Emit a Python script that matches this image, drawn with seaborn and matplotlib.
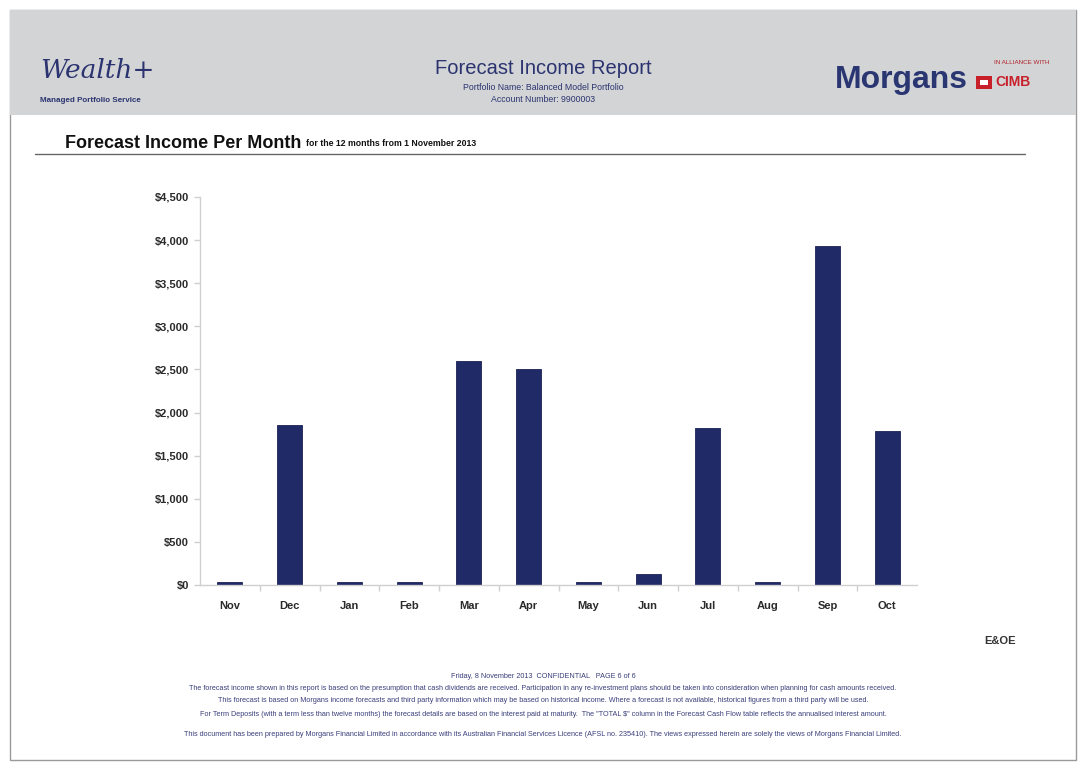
import matplotlib
matplotlib.use("Agg")
import matplotlib.pyplot as plt
import seaborn as sns
import pandas as pd
from matplotlib.patches import Rectangle
from matplotlib.lines import Line2D
from matplotlib.ticker import FuncFormatter, FixedLocator

months = ["Nov", "Dec", "Jan", "Feb", "Mar", "Apr", "May", "Jun", "Jul", "Aug", "Sep", "Oct"]
income = [30, 1855, 30, 30, 2600, 2510, 30, 125, 1820, 30, 3935, 1785]
yticks = [0, 500, 1000, 1500, 2000, 2500, 3000, 3500, 4000, 4500]

sns.set_theme(style="white")
plt.rcParams['font.family'] = ['Liberation Sans', 'DejaVu Sans']

W, H = 1086, 765
fig = plt.figure(figsize=(W / 100, H / 100), dpi=100)
fig.patch.set_facecolor("white")

def fx(x):
    return x / W

def fy(y):
    return 1 - y / H

# page border
fig.add_artist(Rectangle((fx(10), fy(760)), fx(1066), (750) / H, transform=fig.transFigure,
                         fill=False, edgecolor="#9a9a9a", linewidth=1.0))
# header band
fig.add_artist(Rectangle((fx(10), fy(115)), fx(1066), 105 / H, transform=fig.transFigure,
                         facecolor="#d3d4d5", edgecolor="none"))

navy = "#2b3470"
fig.text(fx(40), fy(78), "Wealth+", fontsize=19, style="italic", family=["DejaVu Serif"],
         color=navy, va="baseline", ha="left")
fig.text(fx(40), fy(100), "Managed Portfolio Service", fontsize=5.8, color=navy, weight="bold",
         va="center", ha="left")

fig.text(fx(543), fy(68), "Forecast Income Report", fontsize=14.5, color=navy, ha="center", va="center")
fig.text(fx(543), fy(87), "Portfolio Name: Balanced Model Portfolio", fontsize=6.3, color=navy,
         ha="center", va="center")
fig.text(fx(543), fy(100), "Account Number: 9900003", fontsize=6.3, color=navy, ha="center", va="center")

fig.text(fx(968), fy(80), "Morgans", fontsize=23, weight="bold", color="#2a3672", ha="right", va="center")
fig.text(fx(1022), fy(62), "IN ALLIANCE WITH", fontsize=4.5, color="#b0202a", ha="center", va="center")
fig.add_artist(Rectangle((fx(976), fy(89)), 16 / W, 13 / H, transform=fig.transFigure,
                         facecolor="#c8202a", edgecolor="none"))
fig.add_artist(Rectangle((fx(980), fy(85)), 8 / W, 5 / H, transform=fig.transFigure,
                         facecolor="white", edgecolor="none"))
fig.text(fx(995), fy(82), "CIMB", fontsize=10, weight="bold", color="#c8202a", ha="left", va="center")

# section title
title = fig.text(fx(65), fy(143), "Forecast Income Per Month", fontsize=13, weight="bold",
                 color="#111111", ha="left", va="center")
fig.canvas.draw()
bb = title.get_window_extent(renderer=fig.canvas.get_renderer())
fig.text(bb.x1 / W + 5 / W, fy(144), "for the 12 months from 1 November 2013", fontsize=6.3,
         weight="bold", color="#111111", ha="left", va="center")
fig.add_artist(Line2D([fx(35), fx(1025)], [fy(154), fy(154)], transform=fig.transFigure,
                      color="#666666", linewidth=1.0))

# chart
ax = fig.add_axes([fx(200), fy(585), (917 - 200) / W, (585 - 197) / H])
df = pd.DataFrame({"month": months, "income": income})
sns.barplot(data=df, x="month", y="income", color="#202a66", width=0.42, saturation=1,
            edgecolor="#1a2255", linewidth=0.6, ax=ax)
ax.set_xlim(-0.5, len(months) - 0.5)
ax.set_ylim(0, 4500)
ax.yaxis.set_major_locator(FixedLocator(yticks))
ax.yaxis.set_major_formatter(FuncFormatter(lambda v, p: f"${v:,.0f}"))
ax.set_xlabel("")
ax.set_ylabel("")
for s in ["top", "right"]:
    ax.spines[s].set_visible(False)
for s in ["left", "bottom"]:
    ax.spines[s].set_color("#d0d0d0")
    ax.spines[s].set_linewidth(1.0)
ax.tick_params(axis="y", length=4, color="#d0d0d0", width=1, left=True, labelsize=8,
               labelcolor="#2a2a2a", pad=4)
ax.tick_params(axis="x", length=0, labelsize=8, labelcolor="#2a2a2a", pad=17)
ax.set_xticks([i + 0.5 for i in range(len(months) - 1)], minor=True)
ax.tick_params(axis="x", which="minor", length=4, color="#d0d0d0", width=1, bottom=True)
for lab in ax.get_yticklabels():
    lab.set_fontweight("bold")
for lab in ax.get_xticklabels():
    lab.set_fontweight("bold")
    lab.set_verticalalignment("baseline")

fig.text(fx(1000), fy(641), "E&OE", fontsize=8, weight="bold", color="#333333", ha="center", va="center")

# footer
foot_col = "#3a3f7a"
footer = [
    (677, "Friday, 8 November 2013  CONFIDENTIAL   PAGE 6 of 6"),
    (689, "The forecast income shown in this report is based on the presumption that cash dividends are received. Participation in any re-investment plans should be taken into consideration when planning for cash amounts received."),
    (701, "This forecast is based on Morgans income forecasts and third party information which may be based on historical income. Where a forecast is not available, historical figures from a third party will be used."),
    (714, "For Term Deposits (with a term less than twelve months) the forecast details are based on the interest paid at maturity.  The \"TOTAL $\" column in the Forecast Cash Flow table reflects the annualised interest amount."),
    (735, "This document has been prepared by Morgans Financial Limited in accordance with its Australian Financial Services Licence (AFSL no. 235410). The views expressed herein are solely the views of Morgans Financial Limited."),
]
for y, t in footer:
    fig.text(fx(543), fy(y), t, fontsize=5.2, color=foot_col, ha="center", va="center")

fig.savefig("out.png", dpi=100)
